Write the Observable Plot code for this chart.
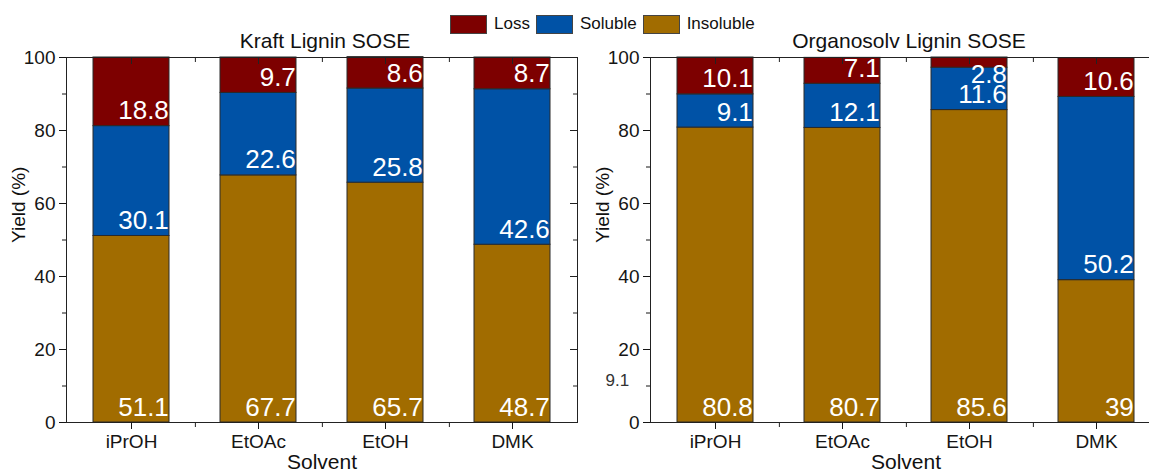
<!DOCTYPE html>
<html>
<head>
<meta charset="utf-8">
<script src="https://cdn.jsdelivr.net/npm/d3@7"></script>
<script src="https://cdn.jsdelivr.net/npm/@observablehq/plot@0.6"></script>
<style>
  html, body { margin: 0; padding: 0; background: #fff; overflow: hidden; }
  #root { position: relative; width: 1149px; height: 471px; overflow: hidden; font-family: "Liberation Sans", Arial, sans-serif; color: #111; }
  .panel { position: absolute; top: 0; }
  #legend { position: absolute; top: 14px; left: 450px; height: 20px; display: flex; align-items: center; font-size: 17px; }
  #legend .sw { width: 37px; height: 19px; border: 1px solid #444; box-sizing: border-box; margin-right: 7px; }
  #legend .lab { margin-right: 6px; line-height: 20px; }
</style>
</head>
<body>
<div id="root">
  <div id="legend"></div>
</div>
<script>
// ---- data ----
const solvents = ["iPrOH", "EtOAc", "EtOH", "DMK"];
const components = ["Loss", "Soluble", "Insoluble"];
const stackOrder = ["Insoluble", "Soluble", "Loss"];
const colors = ["#7d0000", "#0052a6", "#a16c00"];

const kraftInsoluble = [51.1, 67.7, 65.7, 48.7];
const kraftSoluble   = [30.1, 22.6, 25.8, 42.6];
const kraftLoss      = [18.8, 9.7, 8.6, 8.7];

const organoInsoluble = [80.8, 80.7, 85.6, 39];
const organoSoluble   = [9.1, 12.1, 11.6, 50.2];
const organoLoss      = [10.1, 7.1, 2.8, 10.6];

const yTicks = [0, 20, 40, 60, 80, 100];
const yMinorTicks = [10, 30, 50, 70, 90];
const strayNote = [{text: "9.1", y: 11.5}];

// ---- layout ----
const H = 471, marginTop = 57, marginBottom = 49, frameW = 511;
const fh = H - marginTop - marginBottom;
const font = "'Liberation Sans', Arial, sans-serif";

function panel({title, insoluble, soluble, loss, marginLeft, width, extra = []}) {
  const rows = solvents.flatMap((s, i) => [
    {solvent: s, component: "Insoluble", value: insoluble[i]},
    {solvent: s, component: "Soluble", value: soluble[i]},
    {solvent: s, component: "Loss", value: loss[i]}
  ]);
  const step = frameW / solvents.length;
  const bw = step * 0.6;
  const st = {x: "solvent", y: "value", z: "component", order: stackOrder};
  return Plot.plot({
    width, height: H, marginTop, marginBottom, marginLeft,
    marginRight: width - marginLeft - frameW,
    style: {fontFamily: font, fontSize: "19px", color: "#151515", background: "transparent", overflow: "visible"},
    x: {domain: solvents, paddingInner: 0.4, paddingOuter: 0.2},
    y: {domain: [0, 100]},
    color: {domain: components, range: colors},
    marks: [
      Plot.barY(rows, Plot.stackY({...st, fill: "component", stroke: "#2a2a2a", strokeWidth: 1})),
      Plot.text(rows, Plot.stackY1({...st, text: d => d.value >= 5 ? String(d.value) : "",
        textAnchor: "end", lineAnchor: "bottom", dx: bw / 2 - 1, dy: -7, fill: "white", fontSize: 26})),
      Plot.text(rows, Plot.stackY1({...st, text: d => d.value < 5 ? String(d.value) : "",
        textAnchor: "end", lineAnchor: "bottom", dx: bw / 2 - 1, dy: 15, fill: "white", fontSize: 26})),
      Plot.frame({stroke: "#222"}),
      Plot.axisY({ticks: yTicks, tickSize: 7, tickPadding: 4, label: null, fontSize: 19}),
      Plot.axisY({ticks: yMinorTicks, tickSize: 4, tickFormat: () => "", label: null}),
      Plot.tickY(yTicks, {y: d => d, insetLeft: frameW - 7, stroke: "#222"}),
      Plot.tickY(yMinorTicks, {y: d => d, insetLeft: frameW - 4, stroke: "#222"}),
      Plot.axisX({tickSize: 7, tickPadding: 5, label: null, fontSize: 19}),
      Plot.tickX(solvents, {x: d => d, insetBottom: fh - 7, stroke: "#222"}),
      Plot.tickX(solvents.slice(0, -1), {x: d => d, dx: step / 2, insetBottom: fh - 5, stroke: "#222"}),
      Plot.tickX(solvents.slice(0, -1), {x: d => d, dx: step / 2, insetTop: fh, insetBottom: -5, stroke: "#222"}),
      Plot.text([title], {frameAnchor: "top", dx: 3, dy: -10, lineAnchor: "bottom", fontSize: 21, fill: "#111"}),
      Plot.text(["Solvent"], {frameAnchor: "bottom", dy: 46, lineAnchor: "bottom", fontSize: 21, fill: "#111"}),
      Plot.text(["Yield (%)"], {frameAnchor: "left", rotate: -90, dx: -48, dy: 3, fontSize: 19, fill: "#111"}),
      ...extra
    ]
  });
}

const root = document.getElementById("root");

const left = panel({title: "Kraft Lignin SOSE", insoluble: kraftInsoluble, soluble: kraftSoluble, loss: kraftLoss, marginLeft: 66, width: 580});
left.classList.add("panel"); left.style.left = "0px";
root.appendChild(left);

const right = panel({title: "Organosolv Lignin SOSE", insoluble: organoInsoluble, soluble: organoSoluble, loss: organoLoss,
  marginLeft: 70, width: 582,
  extra: [Plot.text(strayNote, {frameAnchor: "left", y: "y", text: "text", dx: -45, fontSize: 17, fill: "#333"})]});
right.classList.add("panel"); right.style.left = "580px";
root.appendChild(right);

// legend
const legend = document.getElementById("legend");
components.forEach((c, i) => {
  const sw = document.createElement("div");
  sw.className = "sw"; sw.style.background = colors[i];
  const lab = document.createElement("span");
  lab.className = "lab"; lab.textContent = c;
  legend.appendChild(sw); legend.appendChild(lab);
});
</script>
</body>
</html>
